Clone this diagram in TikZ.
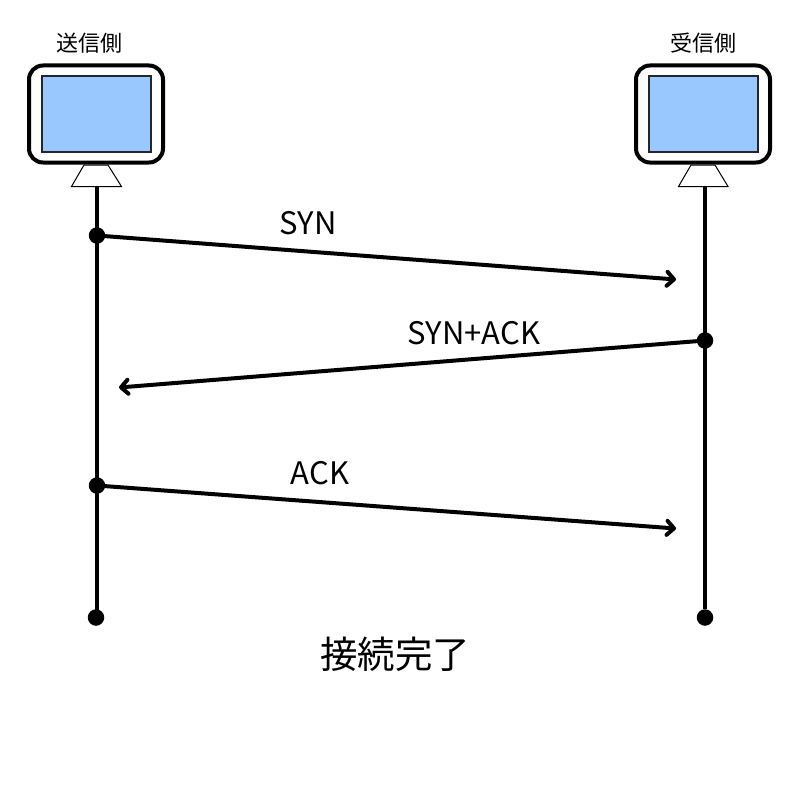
\documentclass[tikz,border=0pt]{standalone}
\usepackage{fontspec}
\setmainfont{Noto Sans CJK JP}
\usetikzlibrary{arrows.meta}
\definecolor{screenblue}{RGB}{153,199,255}
\tikzset{
monitor/.style={draw, line width=4pt, rounded corners=14pt, minimum width=134pt, minimum height=97pt, inner sep=0pt},
screen/.style={draw=black!85, line width=2pt, fill=screenblue, minimum width=109pt, minimum height=76pt, inner sep=0pt},
stand/.style={draw, line width=1pt},
dot/.style={circle, fill=black, minimum size=16.5pt, inner sep=0pt},
lifeline/.style={line width=4pt},
msg/.style={line width=4pt, line cap=round, -{Straight Barb[length=7pt,width=14pt,round]}},
side/.style={font=\fontsize{22pt}{24pt}\selectfont, inner sep=0pt},
msgtext/.style={font=\fontsize{31pt}{34pt}\selectfont, inner sep=0pt},
donetext/.style={font=\fontsize{37.5pt}{40pt}\selectfont, inner sep=0pt}
}
\begin{document}
\begin{tikzpicture}[x=1pt, y=-1pt]
\useasboundingbox (0,0) rectangle (800,800);
\node (sendlabel) [side] at (89,43) {送信側};
\node (recvlabel) [side] at (703,43) {受信側};
\node (sendbox) [monitor] at (96,114) {};
\node (recvbox) [monitor] at (703,114) {};
\node (sendscreen) [screen] at (96.5,114) {};
\node (recvscreen) [screen] at (703,114) {};
\draw[stand] (71.5,186.5) -- (84,165) -- (108,165) -- (121.5,186.5) -- cycle;
\draw[stand] (678.5,186.5) -- (691,165) -- (715,165) -- (728,186.5) -- cycle;
\coordinate (sendtop) at (96.5,187);
\coordinate (recvtop) at (705,187);
\node (send1) [dot] at (97,235.5) {};
\node (recv2) [dot] at (705,340.5) {};
\node (send3) [dot] at (97,485.5) {};
\node (sendend) [dot] at (96,617.5) {};
\node (recvend) [dot] at (705,617.5) {};
\coordinate (recv1) at (676,279.5);
\coordinate (send2) at (119,387.5);
\coordinate (recv3) at (676,528.5);
\draw[lifeline] (sendtop) -- (sendtop |- sendend);
\draw[lifeline] (recvtop) -- (recvend);
\draw[msg] (send1) -- (recv1);
\draw[msg] (recv2) -- (send2);
\draw[msg] (send3) -- (recv3);
\node (synlabel) [msgtext] at (308,223) {SYN};
\node (synacklabel) [msgtext] at (474,333) {SYN+ACK};
\node (acklabel) [msgtext] at (320,473) {ACK};
\node (donelabel) [donetext] at (395,654.5) {接続完了};
\end{tikzpicture}
\end{document}
